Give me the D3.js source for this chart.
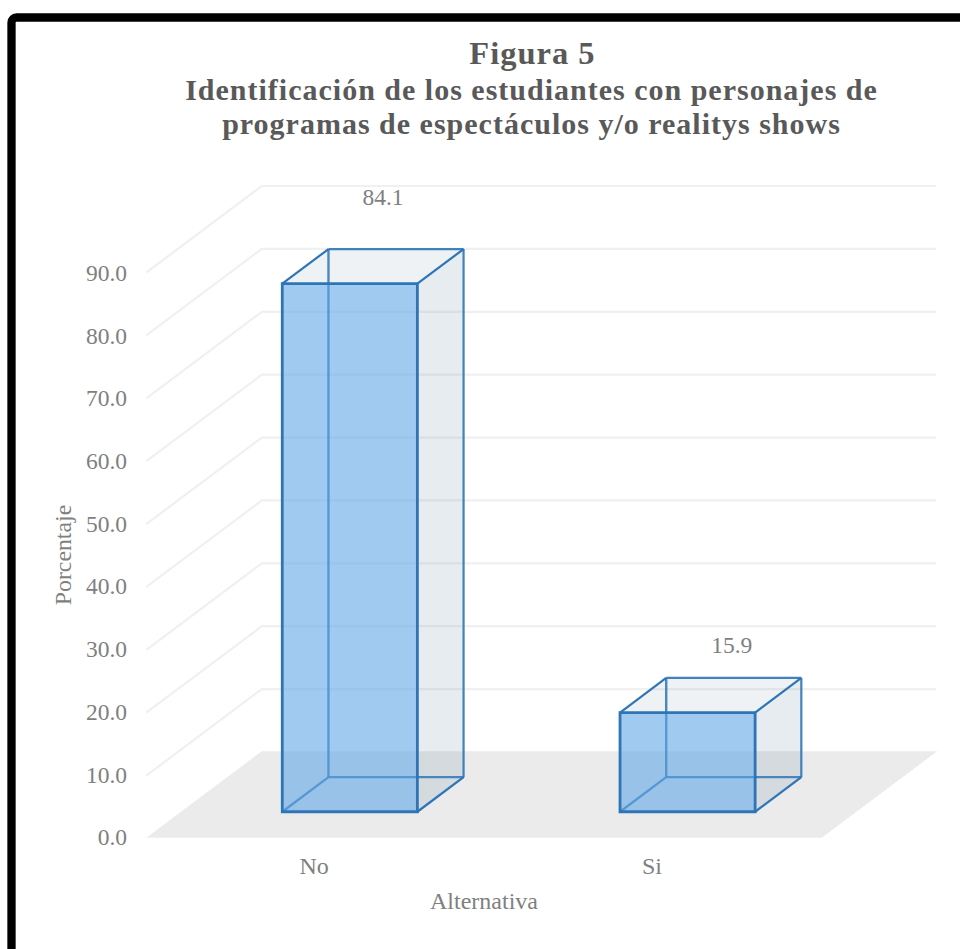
<!DOCTYPE html>
<html><head><meta charset="utf-8">
<script src="https://cdn.jsdelivr.net/npm/d3@7/dist/d3.min.js"></script>
<style>html,body{margin:0;padding:0;background:#fff}svg{display:block}text{font-family:"Liberation Serif",serif}</style>
</head><body><div id="c"></div>
<script>
const categories = ["No","Si"];
const values = [84.1,15.9];
const valueLabels = ["84.1","15.9"];
const ticks = [0,10,20,30,40,50,60,70,80,90];
const titleLines = ["Figura 5","Identificación de los estudiantes con personajes de","programas de espectáculos y/o realitys shows"];
const yTitle = "Porcentaje";
const xTitle = "Alternativa";

const W=960,H=949;
const svg=d3.select("#c").append("svg").attr("width",W).attr("height",H);
svg.append("rect").attr("x",11.5).attr("y",17.5).attr("width",W+40).attr("height",H+40).attr("rx",5)
  .attr("fill","#fff").attr("stroke","#000").attr("stroke-width",8.3);

const originX=146.3, originY=837.7, depthDX=115.5, depthDY=86.5;
const xS=d3.scaleBand().domain(categories).range([0,675.5]).paddingInner(0.6).paddingOuter(0.3);
const yS=d3.scaleLinear().domain([0,90]).range([0,566]);
const P=(u,v,z)=>[originX+u+depthDX*z, originY-yS(v)-depthDY*z+(v>0?0.8:0)];
const poly=pts=>"M"+pts.map(p=>p.join(",")).join("L")+"Z";
const line=d3.line();

const floorW=xS.range()[1];
svg.append("path").attr("d",poly([P(0,0,0),P(floorW,0,0),P(floorW,0,1),P(0,0,1)])).attr("fill","#ebebeb");

ticks.forEach(t=>{ if(t===0) return;
  svg.append("path").attr("d",line([P(0,t,0),P(0,t,1),P(floorW-1,t,1)]))
    .attr("fill","none").attr("stroke","#f0f0f0").attr("stroke-width",2.2);
});
ticks.forEach(t=>{
  svg.append("text").attr("x",127).attr("y",P(0,t,0)[1]+6.8+t/90*1.5).attr("text-anchor","end")
    .attr("font-size",23.5).attr("fill","#7f7f7f").text(d3.format(".1f")(t));
});

const zA=0.3,zB=0.7,stroke="#2e75b6";
const labelShift=[[-13,-44],[-2,-25]];
categories.forEach((c,i)=>{
  const a=xS(c),b=a+xS.bandwidth(),v=values[i];
  const face=(pts,fill,op)=>svg.append("path").attr("d",poly(pts)).attr("fill",fill).attr("fill-opacity",op);
  const edge=(p,q,w,op)=>svg.append("path").attr("d",line([p,q])).attr("stroke",stroke).attr("stroke-width",w).attr("stroke-opacity",op).attr("fill","none");
  face([P(b,0,zA),P(b,0,zB),P(b,v,zB),P(b,v,zA)],"#3a6a8c",0.13);
  face([P(a,v,zA),P(b,v,zA),P(b,v,zB),P(a,v,zB)],"#3a6a8c",0.085);
  edge(P(a,0,zB),P(b,0,zB),2.2,0.85);
  edge(P(a,0,zA),P(a,0,zB),2.2,0.85);
  edge(P(b,0,zA),P(b,0,zB),2.2,1);
  edge(P(a,0,zB),P(a,v,zB),2.4,0.85);
  edge(P(b,0,zB),P(b,v,zB),2.2,0.9);
  edge(P(a,v,zB),P(b,v,zB),2.2,0.9);
  edge(P(a,v,zA),P(a,v,zB),2.2,1);
  edge(P(b,v,zA),P(b,v,zB),2.2,1);
  face([P(a,0,zA),P(b,0,zA),P(b,v,zA),P(a,v,zA)],"#5ba3e6",0.58);
  svg.append("path").attr("d",poly([P(a,0,zA),P(b,0,zA),P(b,v,zA),P(a,v,zA)])).attr("fill","none").attr("stroke",stroke).attr("stroke-width",2.8);
  const top=P((a+b)/2,v,zB);
  svg.append("text").attr("x",top[0]+labelShift[i][0]).attr("y",top[1]+labelShift[i][1]).attr("text-anchor","middle")
    .attr("font-size",23.5).attr("fill","#7f7f7f").text(valueLabels[i]);
  svg.append("text").attr("x",P((a+b)/2,0,0)[0]-1).attr("y",873.5).attr("text-anchor","middle")
    .attr("font-size",24).attr("fill","#7f7f7f").text(c);
});

svg.append("text").attr("x",484).attr("y",909).attr("text-anchor","middle").attr("font-size",24).attr("fill","#7f7f7f").text(xTitle);
svg.append("text").attr("transform","translate(71,555) rotate(-90)").attr("text-anchor","middle").attr("font-size",23.8).attr("fill","#7f7f7f").text(yTitle);

const tY=[64,100,134],tS=[32.5,30,30];
titleLines.forEach((t,i)=>svg.append("text").attr("x",i==0?532.5:531.5).attr("y",tY[i]).attr("text-anchor","middle")
  .attr("font-size",tS[i]).attr("font-weight","bold").attr("fill","#595959").attr("letter-spacing",1).text(t));
</script></body></html>
